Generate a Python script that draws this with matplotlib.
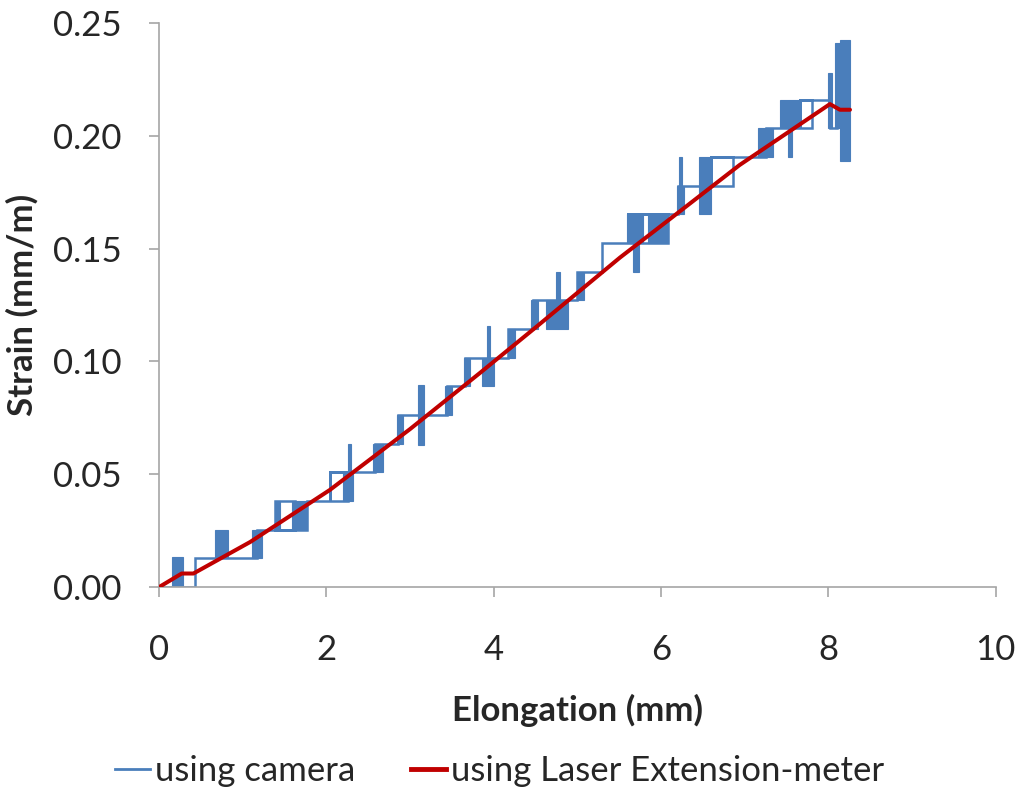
import matplotlib
matplotlib.use('Agg')
import matplotlib.pyplot as plt
from matplotlib.lines import Line2D

BLUE = '#4A7EBB'
RED = '#C00000'
GREY = '#A6A6A6'

# camera trace (elongation mm, strain mm/m)
camera_x = [0.00, 0.43, 0.43, 1.17, 1.17, 1.62, 1.62, 1.39, 1.39, 1.77, 1.77,
            2.26, 2.26, 2.04, 2.04, 2.04, 2.58, 2.58, 2.86, 2.86, 3.44, 3.44,
            3.66, 3.66, 4.17, 4.17, 4.47, 4.47, 5.00, 5.00, 5.29, 5.29,
            6.08, 6.08, 5.60, 5.60, 5.60, 6.20, 6.20, 6.86, 6.86, 6.60, 6.60, 6.60, 6.86,
            7.25, 7.25, 7.80, 7.80, 7.66, 7.66, 7.66, 8.02, 8.02, 8.10]
camera_y = [0.0, 0.0, 0.0127, 0.0127, 0.0254, 0.0254, 0.0381, 0.0381, 0.0254, 0.0254, 0.0381,
            0.0381, 0.0508, 0.0508, 0.0381, 0.0508, 0.0508, 0.0635, 0.0635, 0.0762, 0.0762, 0.0889,
            0.0889, 0.1016, 0.1016, 0.1143, 0.1143, 0.1270, 0.1270, 0.1397, 0.1397, 0.1524,
            0.1524, 0.1651, 0.1651, 0.1524, 0.1651, 0.1651, 0.1778, 0.1778, 0.1905, 0.1905, 0.1778, 0.1905, 0.1905,
            0.1905, 0.2032, 0.2032, 0.2159, 0.2159, 0.2032, 0.2159, 0.2159, 0.2032, 0.2032]

# dense flicker bands of the camera signal at each step
band_x0 = [0.15, 0.67, 1.11, 1.39, 1.59, 2.20, 2.26, 2.56, 2.84, 3.10, 3.42, 3.64, 3.86, 3.92,
           4.17, 4.45, 4.63, 4.75, 5.00, 5.59, 5.66, 5.84, 6.19, 6.22, 6.46, 7.16, 7.42, 7.52,
           8.00, 8.08, 8.14]
band_x1 = [0.29, 0.82, 1.23, 1.45, 1.77, 2.32, 2.30, 2.68, 2.91, 3.17, 3.50, 3.72, 4.00, 3.96,
           4.25, 4.53, 4.89, 4.79, 5.08, 5.78, 5.74, 6.08, 6.28, 6.25, 6.60, 7.34, 7.66, 7.57,
           8.04, 8.14, 8.26]
band_lo = [0.0, 0.0127, 0.0127, 0.0254, 0.0254, 0.0381, 0.0508, 0.0508, 0.0635, 0.0630, 0.0762,
           0.0889, 0.0889, 0.1016, 0.1016, 0.1143, 0.1143, 0.1270, 0.1270, 0.1524, 0.1397,
           0.1524, 0.1651, 0.1778, 0.1651, 0.1905, 0.2032, 0.1905, 0.2032, 0.2032, 0.1890]
band_hi = [0.0133, 0.0254, 0.0254, 0.0381, 0.0381, 0.0508, 0.0635, 0.0635, 0.0762, 0.0895, 0.0889,
           0.1016, 0.1016, 0.1155, 0.1143, 0.1270, 0.1270, 0.1397, 0.1397, 0.1651, 0.1524,
           0.1651, 0.1778, 0.1905, 0.1905, 0.2032, 0.2159, 0.2032, 0.2280, 0.2410, 0.2425]

# laser extension-meter
laser_x = [0.00, 0.27, 0.41, 1.09, 2.04, 3.00, 3.84, 4.50, 5.51, 6.00, 6.94, 7.30, 8.02, 8.14, 8.26]
laser_y = [0.000, 0.006, 0.006, 0.020, 0.043, 0.070, 0.095, 0.115, 0.146, 0.160, 0.187, 0.196,
           0.214, 0.2115, 0.2115]

x_ticks = [0, 2, 4, 6, 8, 10]
y_ticks = [0.00, 0.05, 0.10, 0.15, 0.20, 0.25]

plt.rcParams['font.family'] = ['Lato', 'DejaVu Sans']
FS = 25

fig = plt.figure(figsize=(10.2, 7.88), dpi=100)
ax = fig.add_axes([0.156, 0.255, 0.820, 0.716])

ax.plot(camera_x, camera_y, color=BLUE, lw=1.8, solid_joinstyle='miter', zorder=2)
widths = [b - a for a, b in zip(band_x0, band_x1)]
heights = [h - l for l, h in zip(band_lo, band_hi)]
ax.bar(band_x0, heights, width=widths, bottom=band_lo, align='edge',
       color=BLUE, edgecolor=BLUE, linewidth=0.8, zorder=2)
ax.plot(laser_x, laser_y, color=RED, lw=2.9, solid_capstyle='round', zorder=3)

ax.set_xlim(0, 10)
ax.set_ylim(0, 0.25)
ax.set_xticks(x_ticks)
ax.set_yticks(y_ticks)
ax.set_yticklabels([f'{v:.2f}' for v in y_ticks])
for s in ['top', 'right']:
    ax.spines[s].set_visible(False)
for s in ['left', 'bottom']:
    ax.spines[s].set_color(GREY)
    ax.spines[s].set_linewidth(1.2)
ax.tick_params(axis='both', direction='out', length=7, width=1.2, color=GREY,
               labelsize=FS, labelcolor='#262626')
ax.tick_params(axis='x', pad=27)
ax.tick_params(axis='y', pad=20)

ax.set_xlabel('Elongation (mm)', fontsize=FS, fontweight='bold', color='#262626', labelpad=20)
ax.set_ylabel('Strain (mm/m)', fontsize=FS, fontweight='bold', color='#262626', labelpad=10)

handles = [Line2D([], [], color=BLUE, lw=2),
           Line2D([], [], color=RED, lw=3.5)]
fig.legend(handles, ['using camera', 'using Laser Extension-meter'],
           loc='lower center', bbox_to_anchor=(0.49, -0.038), ncol=2, frameon=False,
           fontsize=FS, handlelength=1.0, handletextpad=0.15, columnspacing=1.6,
           labelcolor='#262626')

fig.savefig('out.png', dpi=100)
